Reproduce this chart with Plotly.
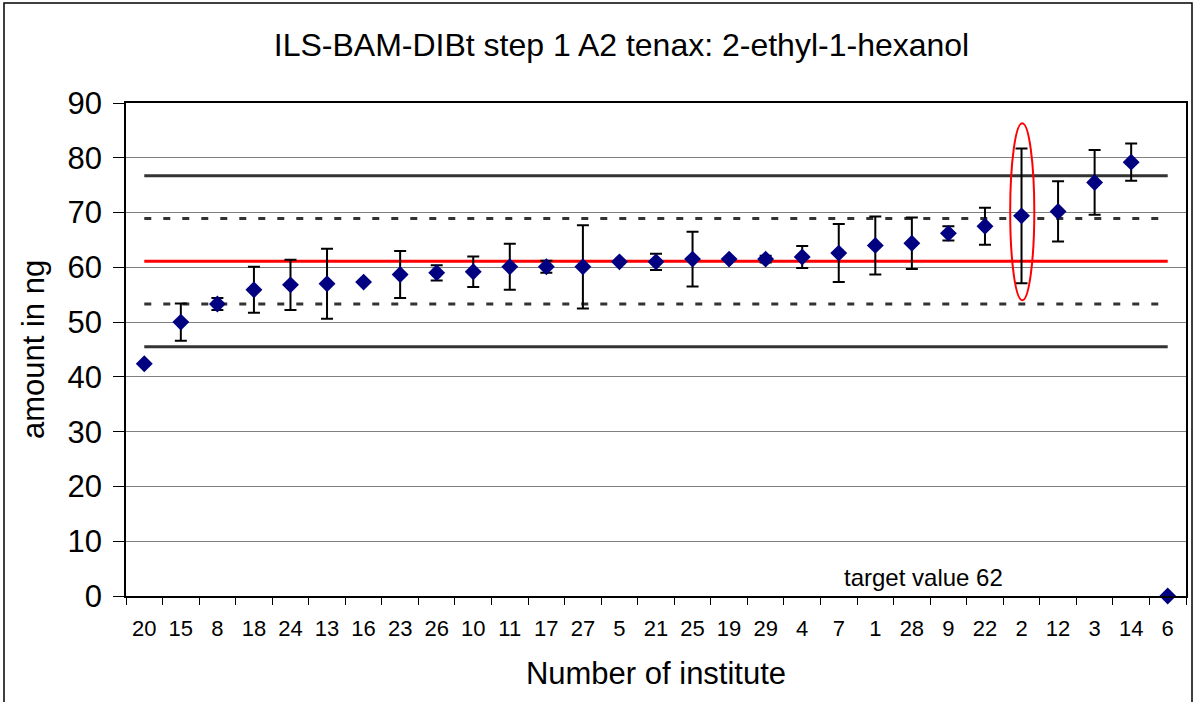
import plotly.graph_objects as go

# ---- data ----
institutes = ["20", "15", "8", "18", "24", "13", "16", "23", "26", "10", "11", "17", "27", "5",
              "21", "25", "19", "29", "4", "7", "1", "28", "9", "22", "2", "12", "3", "14", "6"]
amounts = [42.4, 50.0, 53.3, 55.9, 56.8, 57.0, 57.3, 58.7, 59.0, 59.2, 60.1, 60.1, 60.1, 61.0,
           61.0, 61.5, 61.5, 61.5, 61.9, 62.6, 64.0, 64.4, 66.2, 67.5, 69.4, 70.2, 75.5, 79.2, 0.0]
errors = [0.0, 3.4, 1.1, 4.2, 4.6, 6.4, 0.0, 4.3, 1.4, 2.8, 4.2, 1.1, 7.6, 0.0,
          1.5, 5.0, 0.0, 0.6, 2.0, 5.3, 5.3, 4.7, 1.3, 3.4, 12.3, 5.5, 5.9, 3.4, 0.0]

mean_value = 61.1
inner_limits = [53.3, 68.9]
outer_limits = [45.5, 76.7]
y_ticks = [0, 10, 20, 30, 40, 50, 60, 70, 80, 90]

highlight_institute = "2"
ellipse_y = [54.0, 86.3]

FONT = "Liberation Sans, Arial, sans-serif"

fig = go.Figure()

n = len(institutes)
for val in outer_limits:
    fig.add_trace(go.Scatter(x=institutes, y=[val] * n, mode="lines",
                             line=dict(color="#333333", width=3), hoverinfo="skip", showlegend=False))
for val in inner_limits:
    fig.add_trace(go.Scatter(x=institutes, y=[val] * n, mode="lines",
                             line=dict(color="#333333", width=3, dash="7px,12px"),
                             hoverinfo="skip", showlegend=False))
fig.add_trace(go.Scatter(x=institutes, y=[mean_value] * n, mode="lines",
                         line=dict(color="#FF0000", width=3), hoverinfo="skip", showlegend=False))

fig.add_trace(go.Scatter(
    x=institutes, y=amounts, mode="markers",
    marker=dict(symbol="diamond", size=13, color="#000080", line=dict(width=0)),
    error_y=dict(type="data", array=errors, visible=True, color="black", thickness=2, width=6),
    cliponaxis=False, showlegend=False))

# highlight ellipse around institute 2
hi = institutes.index(highlight_institute)
fig.add_shape(type="circle", xref="x", yref="y", x0=hi - 0.31, x1=hi + 0.35,
              y0=ellipse_y[0], y1=ellipse_y[1], line=dict(color="#FF0000", width=2))

# outer chart frame
L, R, T, B = 126, 12, 103, 106
W, H = 1198, 702
pw, ph = W - L - R, H - T - B
fig.add_shape(type="rect", xref="paper", yref="paper",
              x0=(4 - L) / pw, x1=(1192 - L) / pw,
              y0=((H - B) - 720) / ph, y1=((H - B) - 3) / ph,
              line=dict(color="black", width=1.5), layer="below")

fig.add_annotation(text="target value 62", xref="paper", yref="paper",
                   x=(923 - L) / pw, y=((H - B) - 577) / ph, showarrow=False,
                   xanchor="center", yanchor="middle", font=dict(family=FONT, size=24, color="black"))

fig.update_layout(
    width=W, height=H,
    margin=dict(l=L, r=R, t=T, b=B, autoexpand=False),
    paper_bgcolor="white", plot_bgcolor="white",
    title=dict(text="ILS-BAM-DIBt step 1 A2 tenax: 2-ethyl-1-hexanol",
               x=621.5 / W, xanchor="center", y=1 - 45 / H, yanchor="middle",
               font=dict(family=FONT, size=32, color="black")),
    font=dict(family=FONT, color="black"),
)

fig.update_xaxes(type="category", categoryorder="array", categoryarray=institutes,
                 range=[-0.5, n - 0.5],
                 showgrid=False, showline=True, linecolor="black", linewidth=1.5, mirror=True,
                 ticks="outside", tickson="boundaries", ticklen=7, tickcolor="black",
                 tickangle=0, ticklabelstandoff=12,
                 tickfont=dict(family=FONT, size=22, color="black"),
                 title=dict(text="Number of institute", font=dict(family=FONT, size=31, color="black"),
                            standoff=22),
                 automargin=False, zeroline=False)
fig.update_yaxes(range=[0, 90], tickvals=y_ticks, showgrid=True, gridcolor="#808080", gridwidth=1,
                 showline=True, linecolor="black", linewidth=1.5, mirror=True,
                 ticks="outside", ticklen=11, tickcolor="black", ticklabelstandoff=5,
                 tickfont=dict(family=FONT, size=31, color="black"),
                 title=dict(text="amount in ng", font=dict(family=FONT, size=31, color="black"),
                            standoff=14),
                 automargin=False, zeroline=False)

fig.write_html("out.html", config={"displayModeBar": False},
               post_script="document.body.style.margin='0';document.body.style.overflow='hidden';")
